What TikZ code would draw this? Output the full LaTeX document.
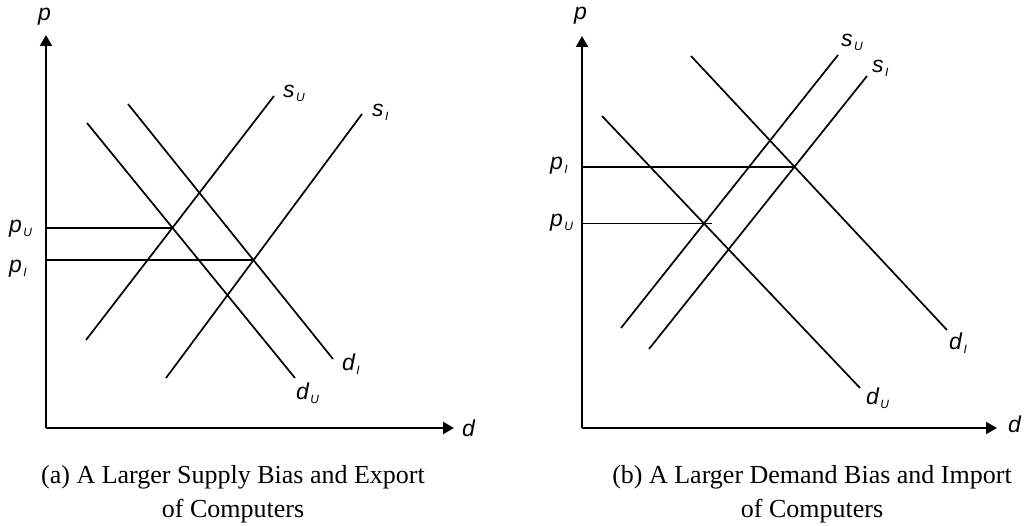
\documentclass[tikz,border=0pt]{standalone}
\usepackage{fontspec}
\setmainfont{Liberation Serif}
\newfontfamily\lblfont{Liberation Sans}
\usetikzlibrary{arrows.meta,calc}

\newcommand{\lsub}[2]{#1\kern1.5pt\raisebox{-4pt}{\fontsize{12}{12}\selectfont #2}}

\begin{document}
\begin{tikzpicture}[
  x=1pt, y=-1pt,
  curve/.style={line width=1.7pt},
  level/.style={line width=1.6pt},
  axis/.style={line width=2pt, -{Triangle[length=11pt,width=12pt]}},
  lbl/.style={anchor=base west, inner sep=0pt, font=\lblfont\itshape\fontsize{23}{23}\selectfont},
  capt/.style={anchor=north, inner sep=0pt, align=center, font=\fontsize{26}{34}\selectfont}
]
\useasboundingbox (0,0) rectangle (1026,526);

% (a) supply bias
\coordinate (o1) at (46,428);
\coordinate (pTop1) at (46,35);
\coordinate (dEnd1) at (454,428);
\draw[axis] (o1) -- (pTop1);
\draw[axis] (o1) -- (dEnd1);

\coordinate (sUa1) at (86,340);  \coordinate (sUb1) at (274,96);
\coordinate (sIa1) at (166,378); \coordinate (sIb1) at (362,114);
\coordinate (dUa1) at (87,123);  \coordinate (dUb1) at (295,378);
\coordinate (dIa1) at (128,104); \coordinate (dIb1) at (333,359);
\draw[curve] (sUa1) -- (sUb1);
\draw[curve] (sIa1) -- (sIb1);
\draw[curve] (dUa1) -- (dUb1);
\draw[curve] (dIa1) -- (dIb1);

\coordinate (eqU1) at (intersection of sUa1--sUb1 and dUa1--dUb1);
\coordinate (eqI1) at (intersection of sIa1--sIb1 and dIa1--dIb1);
\draw[level] (o1 |- eqU1) -- (eqU1);
\draw[level] (o1 |- eqI1) -- (eqI1);

\node[lbl] (pAx1) at (38,21) {p};
\node[lbl] (dAx1) at (462,437) {d};
\node[lbl] (sUl1) at (283,98) {\lsub{s}{U}};
\node[lbl] (sIl1) at (372,117) {\lsub{s}{I}};
\node[lbl] (dIl1) at (342,371) {\lsub{d}{I}};
\node[lbl] (dUl1) at (296,400) {\lsub{d}{U}};
\node[lbl] (pUl1) at (9,233) {\lsub{p}{U}};
\node[lbl] (pIl1) at (9,273) {\lsub{p}{I}};

\node[capt] (capA) at (233,465) {(a) A Larger Supply Bias and Export\\of Computers};

% (b) demand bias
\coordinate (o2) at (582,428);
\coordinate (pTop2) at (582,36);
\coordinate (dEnd2) at (997,428);
\draw[axis] (o2) -- (pTop2);
\draw[axis] (o2) -- (dEnd2);

\coordinate (sUa2) at (621,328); \coordinate (sUb2) at (838,55);
\coordinate (sIa2) at (649,349); \coordinate (sIb2) at (867,76);
\coordinate (dUa2) at (602,116); \coordinate (dUb2) at (860,388);
\coordinate (dIa2) at (691,56);  \coordinate (dIb2) at (947,330);
\draw[curve] (sUa2) -- (sUb2);
\draw[curve] (sIa2) -- (sIb2);
\draw[curve] (dUa2) -- (dUb2);
\draw[curve] (dIa2) -- (dIb2);

\coordinate (eqU2) at (intersection of sUa2--sUb2 and dUa2--dUb2);
\coordinate (eqI2) at (intersection of sIa2--sIb2 and dIa2--dIb2);
\draw[level] (o2 |- eqI2) -- (eqI2);
\draw[level] (o2 |- eqU2) -- ($(eqU2)+(8,0)$);

\node[lbl] (pAx2) at (574,20) {p};
\node[lbl] (dAx2) at (1008,433) {d};
\node[lbl] (sUl2) at (841,47) {\lsub{s}{U}};
\node[lbl] (sIl2) at (872,73) {\lsub{s}{I}};
\node[lbl] (dIl2) at (949,350) {\lsub{d}{I}};
\node[lbl] (dUl2) at (866,405) {\lsub{d}{U}};
\node[lbl] (pIl2) at (550,170) {\lsub{p}{I}};
\node[lbl] (pUl2) at (550,227) {\lsub{p}{U}};

\node[capt] (capB) at (812,465) {(b) A Larger Demand Bias and Import\\of Computers};
\end{tikzpicture}
\end{document}
